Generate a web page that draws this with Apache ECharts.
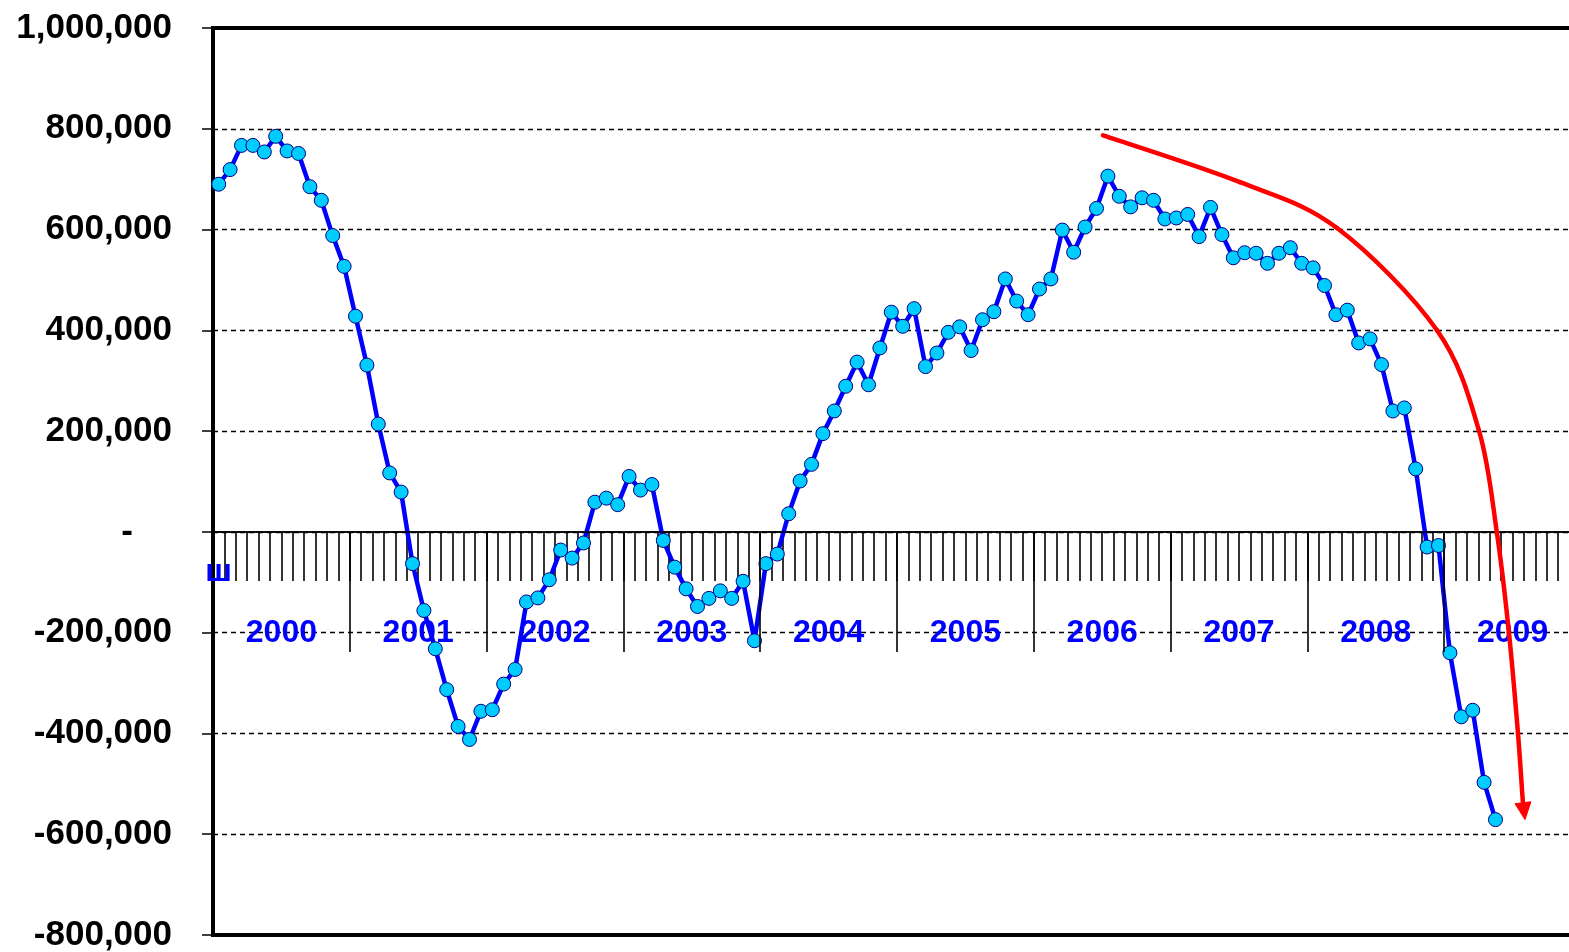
<!DOCTYPE html>
<html>
<head>
<meta charset="utf-8">
<script src="https://cdn.jsdelivr.net/npm/echarts@6/dist/echarts.min.js"></script>
<style>
html,body{margin:0;padding:0;background:#fff;}
#c{width:1569px;height:952px;}
</style>
</head>
<body>
<div id="c"></div>
<script>
// ---- data ----
const years = ['2000','2001','2002','2003','2004','2005','2006','2007','2008','2009'];
const monthNames = ['01','02','03','04','05','06','07','08','09','10','11','12'];
const months = [];
years.forEach(function (y) { monthNames.forEach(function (m) { months.push(y + '-' + m); }); });

// Year-over-year change, Jan 2000 .. May 2009
const jobChange = [
  690000, 719000, 767000, 767000, 754000, 785000, 756000, 751000, 685000, 658000, 588000, 527000,
  428000, 331000, 214000, 117000, 79000, -63000, -156000, -232000, -313000, -386000, -412000, -356000,
  -353000, -302000, -273000, -139000, -131000, -95000, -36000, -52000, -22000, 59000, 67000, 54000,
  110000, 83000, 94000, -17000, -70000, -113000, -148000, -132000, -117000, -132000, -98000, -216000,
  -63000, -44000, 36000, 101000, 134000, 195000, 240000, 289000, 337000, 292000, 365000, 436000,
  408000, 443000, 328000, 355000, 396000, 407000, 360000, 421000, 437000, 502000, 458000, 431000,
  482000, 502000, 599000, 555000, 605000, 642000, 706000, 666000, 645000, 663000, 658000, 621000,
  623000, 630000, 586000, 644000, 590000, 544000, 554000, 553000, 533000, 553000, 564000, 533000,
  524000, 489000, 431000, 440000, 375000, 383000, 332000, 240000, 246000, 125000, -30000, -27000,
  -240000, -367000, -354000, -497000, -571000
];

const yMin = -800000;
const yMax = 1000000;
const yInterval = 200000;

// Red trend arrow annotation, in [month index, value]
const arrowPath = [
  [77.57, 787000], [89.59, 694000], [98.10, 603000], [106.87, 400000],
  [110.55, 201000], [112.13, -3000], [113.18, -200000], [113.97, -399000], [114.41, -538000]
];
const arrowTip = [114.59, -571000];
const firstMonthLabel = 'ш';

// ---- chart ----
const FONT = '"Liberation Sans", Arial, Helvetica, sans-serif';
const chart = echarts.init(document.getElementById('c'), null, { renderer: 'canvas' });

function fmt(v) {
  return v.toLocaleString('en-US');
}

const GRID_TOP = 28, GRID_BOTTOM = 17, H = 952;
const gridBottomY = H - GRID_BOTTOM;

chart.setOption({
  animation: false,
  backgroundColor: '#ffffff',
  grid: {
    left: 213, right: -12, top: GRID_TOP, bottom: GRID_BOTTOM,
    show: true, borderColor: '#000', borderWidth: 4, backgroundColor: 'transparent',
    containLabel: false, outerBoundsMode: 'none'
  },
  xAxis: [
    { // monthly ticks on the zero line
      type: 'category', data: months, position: 'bottom', boundaryGap: true,
      axisLine: { show: true, onZero: true, onZeroAxisIndex: 0, lineStyle: { color: '#000', width: 1.5 } },
      axisTick: { show: true, interval: 0, length: 49, inside: false, lineStyle: { color: '#000', width: 1.6 } },
      axisLabel: { show: false },
      splitLine: { show: false }
    },
    { // yearly separators on the zero line
      type: 'category', data: years, position: 'bottom', boundaryGap: true, z: 6,
      axisLine: { show: true, onZero: true, onZeroAxisIndex: 0, lineStyle: { color: '#000', width: 1.5 } },
      axisTick: { show: true, interval: 0, length: 120, inside: false, lineStyle: { color: '#000', width: 1.6 } },
      axisLabel: { show: false },
      splitLine: { show: false }
    },
    { // year labels
      type: 'category', data: years, position: 'bottom', boundaryGap: true, z: 6,
      axisLine: { show: false, onZero: false },
      axisTick: { show: false },
      axisLabel: {
        show: true, interval: 0, margin: 617 - gridBottomY,
        color: '#0000FF', fontWeight: 'bold', fontSize: 32, fontFamily: FONT
      },
      splitLine: { show: false }
    },
    { // stray first-month label
      type: 'category', data: months, position: 'bottom', boundaryGap: true, z: 6,
      axisLine: { show: false, onZero: false },
      axisTick: { show: false },
      axisLabel: {
        show: true, interval: 0, margin: 556 - gridBottomY,
        formatter: function (v, i) { return i === 0 ? firstMonthLabel : ''; },
        color: '#0000FF', fontWeight: 'bold', fontSize: 32, fontFamily: FONT
      },
      splitLine: { show: false }
    }
  ],
  yAxis: {
    type: 'value', min: yMin, max: yMax, interval: yInterval,
    axisLine: { show: true, onZero: false, lineStyle: { color: '#000', width: 4 } },
    axisTick: { show: true, length: 11, inside: false, lineStyle: { color: '#000', width: 1.5 } },
    axisLabel: {
      margin: 41, color: '#000', fontWeight: 'bold', fontSize: 35, fontFamily: FONT,
      formatter: function (v) { return v === 0 ? '{z|-}' : fmt(v); },
      rich: { z: { color: '#000', fontWeight: 'bold', fontSize: 35, fontFamily: FONT, padding: [0, 39, 0, 0] } }
    },
    splitLine: { show: true, lineStyle: { color: '#000', width: 1.3, type: [5, 4] } }
  },
  series: [{
    type: 'line', data: jobChange, xAxisIndex: 0, yAxisIndex: 0,
    symbol: 'circle', symbolSize: 14, showAllSymbol: true,
    lineStyle: { color: '#0000FF', width: 4.5 },
    itemStyle: { color: '#00CCFF', borderColor: '#000080', borderWidth: 1 },
    z: 5
  }]
});

// ---- arrow annotation (Catmull-Rom curve through the anchors) ----
const n = months.length - 1;
const x0 = chart.convertToPixel({ xAxisIndex: 0 }, 0);
const x1 = chart.convertToPixel({ xAxisIndex: 0 }, n);
function px(i) { return x0 + i * (x1 - x0) / n; }
function py(v) { return chart.convertToPixel({ yAxisIndex: 0 }, v); }
const pts = arrowPath.map(function (p) { return [px(p[0]), py(p[1])]; });
const tip = [px(arrowTip[0]), py(arrowTip[1])];

const curveParts = [];
for (let k = 0; k < pts.length - 1; k++) {
  const p0 = pts[k - 1] || pts[k];
  const p1 = pts[k];
  const p2 = pts[k + 1];
  const p3 = pts[k + 2] || tip;
  curveParts.push({
    type: 'bezierCurve', silent: true, z: 100,
    shape: {
      x1: p1[0], y1: p1[1], x2: p2[0], y2: p2[1],
      cpx1: p1[0] + (p2[0] - p0[0]) / 6, cpy1: p1[1] + (p2[1] - p0[1]) / 6,
      cpx2: p2[0] - (p3[0] - p1[0]) / 6, cpy2: p2[1] - (p3[1] - p1[1]) / 6
    },
    style: { stroke: '#FF0000', lineWidth: 4.5, fill: null, lineCap: 'round' }
  });
}

const last = pts[pts.length - 1];
let dx = tip[0] - last[0], dy = tip[1] - last[1];
const len = Math.sqrt(dx * dx + dy * dy) || 1;
dx /= len; dy /= len;
const headLen = 17, headHalf = 8;
const bc = [tip[0] - dx * headLen, tip[1] - dy * headLen];
const head = [tip, [bc[0] - dy * headHalf, bc[1] + dx * headHalf], [bc[0] + dy * headHalf, bc[1] - dx * headHalf]];

curveParts.push({ type: 'polygon', silent: true, z: 100, shape: { points: head },
  style: { fill: '#FF0000', stroke: '#FF0000', lineWidth: 1 } });

chart.setOption({ graphic: curveParts });
</script>
</body>
</html>
